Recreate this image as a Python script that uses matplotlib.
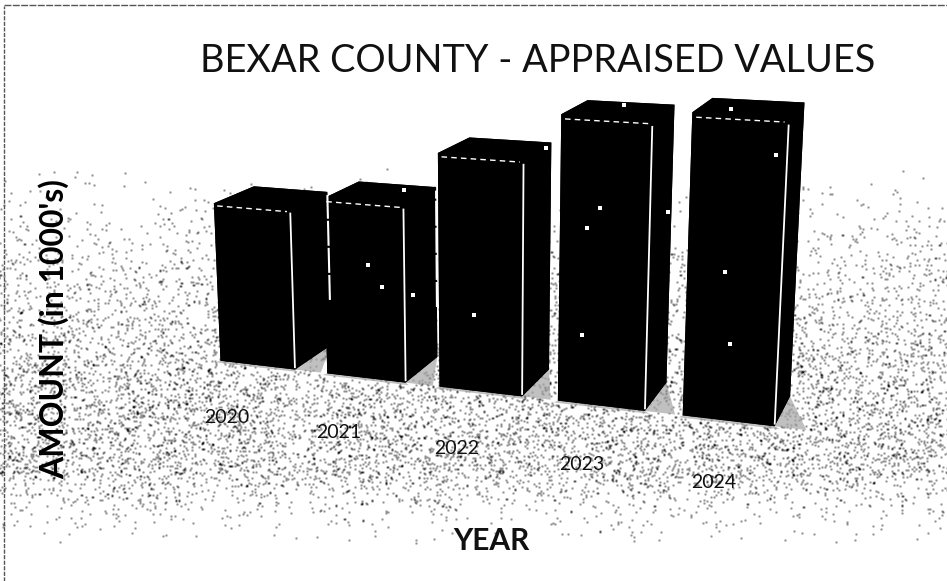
import numpy as np, matplotlib
matplotlib.use('Agg')
import matplotlib.pyplot as plt
from matplotlib.lines import Line2D
from mpl_toolkits.mplot3d.art3d import Poly3DCollection
from mpl_toolkits.mplot3d import proj3d

years = [2020, 2021, 2022, 2023, 2024]
amounts = [66.6, 72.0, 93.2, 110.6, 113.9]   # no printed scale
title = "BEXAR COUNTY - APPRAISED VALUES"
xlabel = "YEAR"
ylabel = "AMOUNT (in 1000's)"
scan_specks = [(368,265),(382,287),(413,295),(474,315),(600,208),(587,228),(582,335),(725,272),(730,344),
               (624,105),(668,212),(731,109),(776,155),(404,190),(430,175),(546,148)]

W, H = 947, 581
plt.rcParams['font.family'] = ['Lato', 'DejaVu Sans']
fig = plt.figure(figsize=(W/100, H/100), dpi=100, facecolor='white')

# scanned-paper grain behind the chart
bg = fig.add_axes([0, 0, 1, 1], zorder=0)
rng = np.random.default_rng(7)
yy, xx = np.mgrid[0:H, 0:W]
dens = np.interp(yy, [165, 200, 300, 400, 470, 505, 545], [0, .02, .10, .20, .20, .05, 0])
dots = rng.random((H, W)) < dens * 0.30
g = dots.astype(float)
for dx, dy, k in [(1,0,.55),(-1,0,.55),(0,1,.55),(0,-1,.55),(1,1,.25),(-1,1,.25),(1,-1,.25),(-1,-1,.25)]:
    g = g + np.roll(np.roll(dots, dy, 0), dx, 1) * k
img = 1 - np.clip(g * 0.42, 0, 0.9)
bg.imshow(img, cmap='gray', vmin=0, vmax=1, extent=(0, W, H, 0), aspect='auto', interpolation='bilinear')
bg.axis('off')

S, tx, ty = 2292.03, 452.11, 250.96
side = 0.185 * S
left = tx - 0.095 * S
bottom = H - ty - 0.095 * S
ax = fig.add_axes([left/W, bottom/H, side/W, side/H], projection='3d', zorder=1)
ax.patch.set_visible(False)
ax.set_axis_off()
ax.computed_zorder = False
ax.set_box_aspect((1, 1, 1))
bar_w = 0.7032
depth = 0.3489
front = 0.3
ax.set_xlim(2020.5754, 2022.6397, view_margin=0)
ax.set_ylim(0, 1, view_margin=0)
ax.set_zlim(0, 100, view_margin=0)
ax.view_init(elev=14.2159, azim=-69.3829, roll=0.2862)
ax.set_proj_type('persp', focal_length=0.70747)

gap = 1 - bar_w
for yr in years:
    x1 = yr + bar_w/2
    x0 = yr - bar_w/2
    tri = [(x1, front, 0), (x1, front + depth, 0), (x1 + gap*.8, front, 0)]
    strip = [(x0, front, 0), (x1, front, 0), (x1 + .05, front - .025, 0), (x0 - .02, front - .025, 0)]
    pc = Poly3DCollection([tri, strip], facecolors='#a6a6a6', edgecolors='none', alpha=.7, zorder=1)
    pc.set_clip_on(False)
    ax.add_collection3d(pc)

bars = ax.bar3d(np.array(years) - bar_w/2, [front]*5, [0]*5, bar_w, depth, amounts,
                color='black', shade=False, zorder=2)
bars.set_clip_on(False)

M = ax.get_proj()
for i, (yr, a) in enumerate(zip(years, amounts)):
    l1, = ax.plot([yr + bar_w/2]*2, [front]*2, [1, a*.975], color='white', lw=1.3, zorder=3)
    l2, = ax.plot([yr - bar_w/2 + .03, yr + bar_w/2 - .03], [front]*2, [a*.985]*2, color='white',
                  lw=1.0, ls=(0, (4, 3)), zorder=3)
    l1.set_clip_on(False); l2.set_clip_on(False)
    if i < 2:
        l3, = ax.plot([yr + bar_w/2]*2, [front + depth]*2, [a*.3, a*.98], color='white', lw=1.5,
                      ls=(0, (12, 1)), zorder=3)
        l3.set_clip_on(False)
    u, v, _ = proj3d.proj_transform(yr + 0.26 - 0.057*(yr - 2022), -0.30, 0, M)
    ax.text2D(u, v, str(yr), transform=ax.transData, fontsize=14, color='#111111',
              ha='center', va='center', zorder=4)

over = fig.add_axes([0, 0, 1, 1], zorder=2)
over.set_xlim(0, W); over.set_ylim(H, 0); over.axis('off')
over.scatter(*zip(*scan_specks), s=5, marker='s', color='white', linewidths=0)

fig.text(538/W, 1-61/H, title, fontsize=27.3, color='#111111', ha='center', va='center', zorder=5)
fig.text(491/W, 1-541/H, xlabel, fontsize=21.5, fontweight='bold', color='#111111', ha='center', va='center', zorder=5)
fig.text(54/W, 1-329/H, ylabel, fontsize=23, fontweight='bold', rotation=90, color='black', ha='center', va='center', zorder=5)

fig.add_artist(Line2D([4/W, 4/W], [0, 1-6/H], color='#555555', lw=1, ls=(0, (3, 1)), zorder=6))
fig.add_artist(Line2D([4/W, 1], [1-5/H, 1-5/H], color='#555555', lw=1, ls=(0, (5, 1)), zorder=6))
fig.savefig('out.png', dpi=100)
